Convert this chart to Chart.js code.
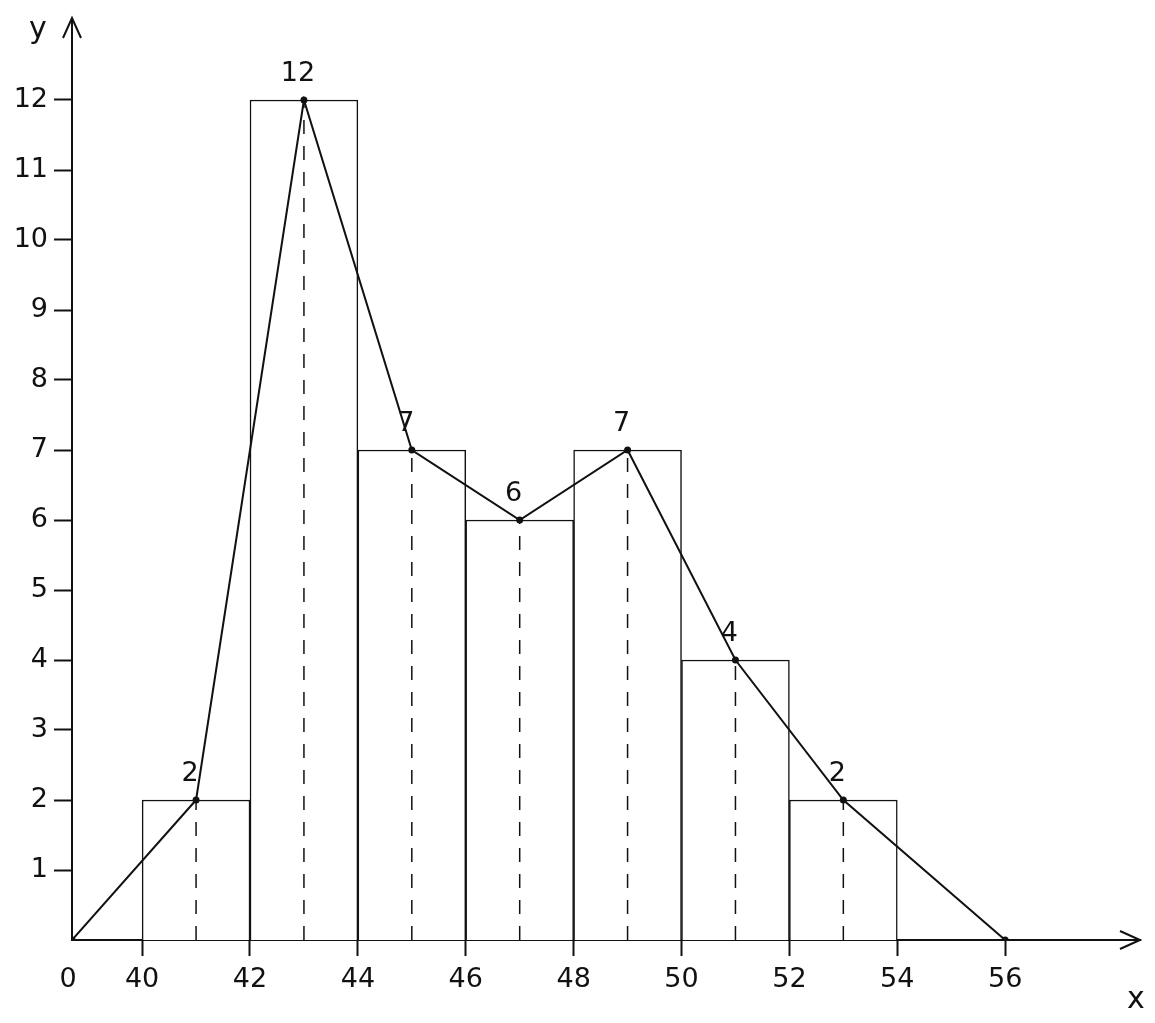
<!DOCTYPE html>
<html>
<head>
<meta charset="utf-8">
<script src="https://cdn.jsdelivr.net/npm/chart.js@4.4.0/dist/chart.umd.min.js"></script>
<style>
    body { margin: 0; background: #fff; }
    #wrap { width: 1155px; height: 1023px; }
</style>
</head>
<body>
<div id="wrap"><canvas id="histChart"></canvas></div>
<script>
// Histogram data: class intervals 40-42 ... 52-54
const midpoints = [41, 43, 45, 47, 49, 51, 53];
const frequencies = [2, 12, 7, 6, 7, 4, 2];
// frequency polygon: starts at the origin (broken axis) and ends on the x axis
const polygonX = [38.7, 41, 43, 45, 47, 49, 51, 53, 56];
const polygonY = [0, 2, 12, 7, 6, 7, 4, 2, 0];
const xTicks = [40, 42, 44, 46, 48, 50, 52, 54, 56];
const yTicks = [1, 2, 3, 4, 5, 6, 7, 8, 9, 10, 11, 12];
const xOrigin = 38.7;   // value sitting at the "0" corner

const ink = '#111';
const handFont = { family: 'DejaVu Sans', size: 27 };

// Dashed verticals from each midpoint down to the x axis
const dashSets = midpoints.map(function (m, i) {
    return {
        type: 'line',
        data: [{ x: m, y: 0 }, { x: m, y: frequencies[i] }],
        borderColor: ink,
        borderWidth: 1.5,
        borderDash: [14, 12],
        pointRadius: 0,
        order: 2
    };
});

// Arrows, axis letters, the origin "0" and the value labels on the polygon
const handPlugin = {
    id: 'handPlugin',
    afterDraw(chart) {
        const ctx = chart.ctx;
        const xs = chart.scales.x;
        const ys = chart.scales.y;
        const x0 = xs.left, y0 = ys.bottom;
        ctx.save();
        ctx.strokeStyle = ink;
        ctx.fillStyle = ink;
        ctx.lineWidth = 2;
        // y arrow
        ctx.beginPath();
        ctx.moveTo(x0, ys.top);
        ctx.lineTo(x0, 18);
        ctx.moveTo(x0 - 9, 38);
        ctx.lineTo(x0, 18);
        ctx.lineTo(x0 + 9, 38);
        ctx.stroke();
        // x arrow
        const xe = 1140;
        ctx.beginPath();
        ctx.moveTo(xs.right, y0);
        ctx.lineTo(xe, y0);
        ctx.moveTo(xe - 20, y0 - 9);
        ctx.lineTo(xe, y0);
        ctx.lineTo(xe - 20, y0 + 9);
        ctx.stroke();

        ctx.font = '30px "DejaVu Sans"';
        ctx.textAlign = 'center';
        ctx.textBaseline = 'middle';
        ctx.fillText('y', 38, 30);
        ctx.fillText('x', 1136, 1000);

        ctx.font = '27px "DejaVu Sans"';
        ctx.fillText('0', x0 - 4, y0 + 40);
        midpoints.forEach(function (m, i) {
            const px = xs.getPixelForValue(m);
            const py = ys.getPixelForValue(frequencies[i]);
            ctx.fillText(String(frequencies[i]), px - 6, py - 26);
        });
        ctx.restore();
    }
};

const ctxHist = document.getElementById('histChart').getContext('2d');
const histChart = new Chart(ctxHist, {
    data: {
        datasets: [{
            type: 'bar',
            data: midpoints.map((m, i) => ({ x: m, y: frequencies[i] })),
            backgroundColor: '#fff',
            borderColor: ink,
            borderWidth: 1.5,
            barPercentage: 1,
            categoryPercentage: 1,
            order: 3
        }, {
            type: 'line',
            data: polygonX.map((x, i) => ({ x: x, y: polygonY[i] })),
            borderColor: ink,
            borderWidth: 2,
            pointRadius: 2.5,
            pointBackgroundColor: ink,
            pointBorderColor: ink,
            tension: 0,
            order: 1
        }].concat(dashSets)
    },
    options: {
        responsive: true,
        maintainAspectRatio: false,
        animation: false,
        layout: { padding: { top: 30, right: 15 } },
        plugins: {
            legend: { display: false },
            tooltip: { enabled: false }
        },
        scales: {
            x: {
                type: 'linear',
                min: xOrigin,
                max: 58.5,
                offset: false,
                afterBuildTicks: function (scale) {
                    scale.ticks = xTicks.map(v => ({ value: v }));
                },
                afterFit: function (scale) { scale.height = 83; },
                border: { color: ink, width: 2 },
                grid: {
                    drawOnChartArea: false,
                    offset: false,
                    tickLength: 16,
                    tickWidth: 2,
                    tickColor: ink
                },
                ticks: {
                    color: ink,
                    font: handFont,
                    padding: 8,
                    maxRotation: 0,
                    autoSkip: false
                }
            },
            y: {
                min: 0,
                max: 13,
                afterBuildTicks: function (scale) {
                    scale.ticks = yTicks.map(v => ({ value: v }));
                },
                afterFit: function (scale) { scale.width = 72; },
                border: { color: ink, width: 2 },
                grid: {
                    drawOnChartArea: false,
                    tickLength: 18,
                    tickWidth: 2,
                    tickColor: ink
                },
                ticks: {
                    color: ink,
                    font: handFont,
                    padding: 6,
                    autoSkip: false
                }
            }
        }
    },
    plugins: [handPlugin]
});
</script>
</body>
</html>
